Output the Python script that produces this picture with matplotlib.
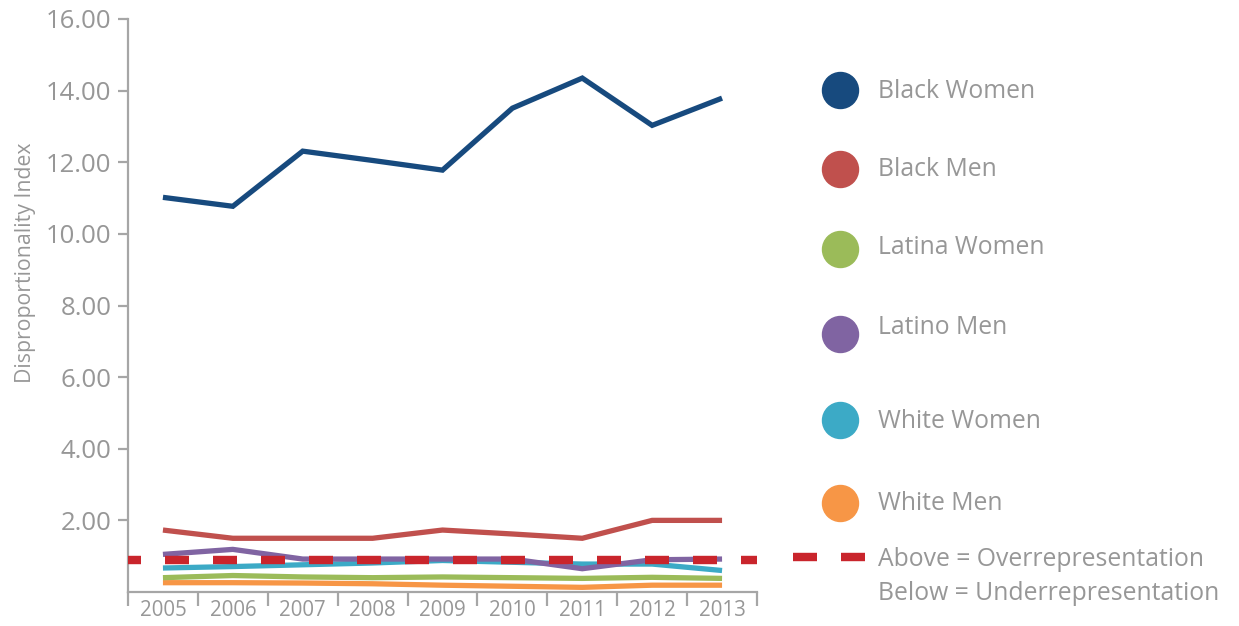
import matplotlib
matplotlib.use("Agg")
import matplotlib.pyplot as plt

years = ["2005", "2006", "2007", "2008", "2009", "2010", "2011", "2012", "2013"]
black_women = [11.02, 10.77, 12.31, 12.05, 11.78, 13.51, 14.35, 13.03, 13.79]
black_men = [1.73, 1.50, 1.50, 1.50, 1.73, 1.62, 1.50, 2.00, 2.00]
latina_women = [0.40, 0.46, 0.42, 0.40, 0.42, 0.40, 0.38, 0.41, 0.38]
latino_men = [1.05, 1.19, 0.92, 0.92, 0.92, 0.92, 0.65, 0.90, 0.92]
white_women = [0.67, 0.71, 0.76, 0.81, 0.88, 0.83, 0.78, 0.78, 0.60]
white_men = [0.26, 0.26, 0.25, 0.23, 0.19, 0.16, 0.13, 0.19, 0.19]
reference_level = 0.9
y_ticks = [2, 4, 6, 8, 10, 12, 14, 16]

series_names = ["Black Women", "Black Men", "Latina Women", "Latino Men", "White Women", "White Men"]
series_values = [black_women, black_men, latina_women, latino_men, white_women, white_men]
colors = ["#174a7e", "#c0504d", "#9bbb59", "#8064a2", "#3caac6", "#f79646"]
ref_color = "#c9252c"
txt = "#979797"
axc = "#a6a6a6"

plt.rcParams['font.family'] = ['Open Sans', 'DejaVu Sans']

W, H = 1239, 626
fig = plt.figure(figsize=(W / 100, H / 100), dpi=100)
ax = fig.add_axes([128 / W, 1 - 592 / H, (757 - 128) / W, (592 - 19) / H])

x = list(range(len(years)))
order = [5, 2, 4, 3, 1, 0]
for i in order:
    ax.plot(x, series_values[i], color=colors[i], lw=3.8, solid_joinstyle="miter",
            solid_capstyle="butt", zorder=3)

px2pt = 72 / 100
lw_ref = 8.4 * px2pt
on = 24 / 8.4
ax.axhline(reference_level, color=ref_color, lw=lw_ref, zorder=4,
           linestyle=(11 / 8.4, (on, on)), dash_capstyle="butt")

ax.set_xlim(-0.5, len(years) - 0.5)
ax.set_ylim(0, 16)
for s in ["top", "right"]:
    ax.spines[s].set_visible(False)
for s in ["left", "bottom"]:
    ax.spines[s].set_color(axc)
    ax.spines[s].set_linewidth(1.6)

ax.set_yticks(y_ticks)
ax.set_yticklabels([f"{v:.2f}" for v in y_ticks])
ax.tick_params(axis="y", colors=axc, labelcolor=txt, labelsize=18.5, length=7, width=1.6, pad=5)

ax.set_xticks([i - 0.5 for i in range(len(years) + 1)])
ax.set_xticklabels([])
ax.set_xticks(x, minor=True)
ax.set_xticklabels(years, minor=True)
ax.tick_params(axis="x", which="major", colors=axc, length=10, width=1.6)
ax.tick_params(axis="x", which="minor", length=0, labelcolor=txt, labelsize=14.8, pad=6)

ax.set_ylabel("Disproportionality Index", color=txt, fontsize=15.3)
ax.yaxis.set_label_coords(-0.147, 0.574)

lg = fig.add_axes([0, 0, 1, 1])
lg.set_xlim(0, W)
lg.set_ylim(H, 0)
lg.axis("off")
circle_y = [90, 169, 249, 334, 420, 503]
text_y = [91, 169, 248, 327, 421, 504]
for i, name in enumerate(series_names):
    lg.scatter([840], [circle_y[i]], s=(36 * px2pt) ** 2, color=colors[i], zorder=3)
    lg.text(878, text_y[i], name, color=txt, fontsize=17.8, va="center", ha="left")
lg.plot([793, 865], [557, 557], color=ref_color, lw=lw_ref,
        linestyle=(0, (on, on)), dash_capstyle="butt")
lg.text(878, 560, "Above = Overrepresentation", color=txt, fontsize=17.8, va="center", ha="left")
lg.text(878, 594, "Below = Underrepresentation", color=txt, fontsize=17.8, va="center", ha="left")

fig.savefig("out.png", dpi=100)
